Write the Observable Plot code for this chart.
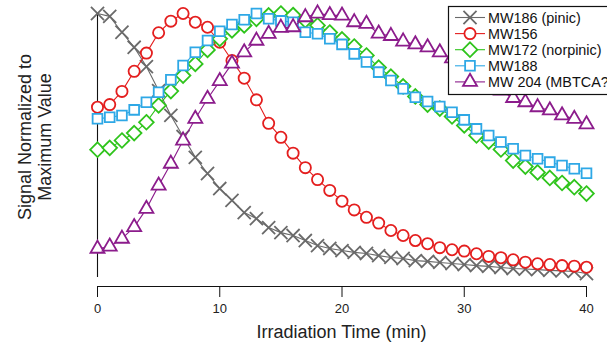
<!DOCTYPE html>
<html>
<head>
<meta charset="utf-8">
<script src="https://cdn.jsdelivr.net/npm/d3@7"></script>
<script src="https://cdn.jsdelivr.net/npm/@observablehq/plot@0.6"></script>
<style>
  html, body { margin: 0; padding: 0; background: white; }
  #chart { width: 607px; height: 346px; overflow: hidden; }
</style>
</head>
<body>
<div id="chart"></div>
<script>
const times = [0,1,2,3,4,5,6,7,8,9,10,11,12,13,14,15,16,17,18,19,20,21,22,23,24,25,26,27,28,29,30,31,32,33,34,35,36,37,38,39,40];
const xTicks = [0, 10, 20, 30, 40];
const seriesNames = ["MW186 (pinic)", "MW156", "MW172 (norpinic)", "MW188", "MW 204 (MBTCA?)"];

const mw186 = [1.000, 0.989, 0.929, 0.872, 0.799, 0.708, 0.614, 0.534, 0.455, 0.394, 0.337, 0.292, 0.246, 0.223, 0.189, 0.170, 0.159, 0.140, 0.121, 0.110, 0.102, 0.095, 0.091, 0.083, 0.076, 0.072, 0.064, 0.061, 0.057, 0.053, 0.049, 0.045, 0.042, 0.038, 0.034, 0.032, 0.030, 0.027, 0.025, 0.023, 0.015];
const mw156 = [0.645, 0.655, 0.705, 0.781, 0.850, 0.927, 0.971, 1.000, 0.967, 0.948, 0.891, 0.822, 0.755, 0.673, 0.584, 0.531, 0.471, 0.416, 0.371, 0.330, 0.289, 0.256, 0.228, 0.206, 0.178, 0.159, 0.140, 0.128, 0.113, 0.105, 0.100, 0.090, 0.080, 0.075, 0.067, 0.058, 0.052, 0.049, 0.045, 0.043, 0.039];
const mw172 = [0.484, 0.491, 0.519, 0.547, 0.588, 0.652, 0.706, 0.765, 0.809, 0.862, 0.904, 0.936, 0.955, 0.980, 0.993, 1.000, 0.994, 0.974, 0.955, 0.928, 0.902, 0.875, 0.841, 0.795, 0.761, 0.724, 0.686, 0.655, 0.640, 0.610, 0.576, 0.538, 0.515, 0.485, 0.443, 0.420, 0.398, 0.377, 0.358, 0.342, 0.318];
const mw188 = [0.601, 0.607, 0.614, 0.635, 0.664, 0.702, 0.749, 0.803, 0.853, 0.898, 0.933, 0.958, 0.976, 1.000, 0.980, 0.972, 0.967, 0.929, 0.923, 0.904, 0.883, 0.847, 0.816, 0.778, 0.746, 0.715, 0.683, 0.667, 0.648, 0.626, 0.597, 0.563, 0.538, 0.513, 0.488, 0.462, 0.450, 0.437, 0.424, 0.412, 0.395];
const mw204 = [0.109, 0.117, 0.147, 0.191, 0.260, 0.348, 0.431, 0.519, 0.601, 0.677, 0.744, 0.810, 0.853, 0.897, 0.923, 0.946, 0.948, 0.986, 1.000, 0.994, 0.992, 0.967, 0.961, 0.924, 0.915, 0.894, 0.883, 0.872, 0.853, 0.830, 0.799, 0.765, 0.735, 0.708, 0.680, 0.664, 0.645, 0.633, 0.614, 0.601, 0.580];

const FONT = "'Liberation Sans', Arial, Helvetica, sans-serif";
const styles = [
  {name: seriesNames[0], values: mw186, color: "#6a6a6a", symbol: "times",    r: 6.0, sw: 1.8},
  {name: seriesNames[1], values: mw156, color: "#e41e1e", symbol: "circle",   r: 5.6, sw: 1.8},
  {name: seriesNames[2], values: mw172, color: "#2fc41c", symbol: "diamond2", r: 6.6, sw: 1.8},
  {name: seriesNames[3], values: mw188, color: "#2ea8e6", symbol: "square",   r: 5.5, sw: 1.8},
  {name: seriesNames[4], values: mw204, color: "#8c1c8c", symbol: "triangle", r: 5.2, sw: 1.8}
];

const yMin = -0.0341;
const marks = [];
marks.push(Plot.ruleX([0], {y1: 0, y2: 1, stroke: "#111", strokeWidth: 1.1}));
marks.push(Plot.ruleY([yMin], {stroke: "#111", strokeWidth: 1.1}));
marks.push(Plot.axisX({ticks: xTicks, tickSize: 11, tickPadding: 6, fontSize: 13, label: null, stroke: "#111", color: "#222"}));
for (const s of styles) {
  const data = times.map((t, i) => ({t, v: s.values[i]}));
  marks.push(Plot.line(data, {x: "t", y: "v", stroke: s.color, strokeWidth: 1.1}));
  marks.push(Plot.dot(data, {x: "t", y: "v", symbol: () => s.symbol, r: s.r, stroke: s.color, fill: "white", strokeWidth: s.sw}));
}

const svg = Plot.plot({
  width: 607,
  height: 346,
  marginLeft: 97,
  marginRight: 21,
  marginTop: 13,
  marginBottom: 60,
  style: {fontFamily: FONT, background: "white", overflow: "visible"},
  x: {domain: [0, 40], label: null},
  y: {domain: [yMin, 1], axis: null},
  symbol: {type: "identity"},
  marks
});

const g = d3.select(svg).append("g").attr("font-family", FONT);

// axis titles
g.append("text").attr("x", 341.5).attr("y", 337.5).attr("text-anchor", "middle")
  .attr("font-size", 18).attr("fill", "#222").text("Irradiation Time (min)");
const yt = g.append("text").attr("transform", "translate(36,137) rotate(-90)")
  .attr("text-anchor", "middle").attr("font-size", 18).attr("fill", "#222");
yt.append("tspan").attr("x", 0).attr("y", -4.8).text("Signal Normalized to");
yt.append("tspan").attr("x", 0).attr("y", 15.2).text("Maximum Value");

// legend
const lg = g.append("g");
lg.append("rect").attr("x", 448.5).attr("y", 6.5).attr("width", 175).attr("height", 88)
  .attr("fill", "white").attr("stroke", "#111").attr("stroke-width", 1.2);
const symMap = {times: d3.symbolTimes, circle: d3.symbolCircle, diamond2: d3.symbolDiamond2, square: d3.symbolSquare, triangle: d3.symbolTriangle};
styles.forEach((s, i) => {
  const cy = 17.5 + 16.1 * i;
  lg.append("line").attr("x1", 455).attr("x2", 485).attr("y1", cy).attr("y2", cy)
    .attr("stroke", s.color).attr("stroke-width", 1.1);
  lg.append("path").attr("transform", `translate(470,${cy})`)
    .attr("d", d3.symbol(symMap[s.symbol], Math.PI * s.r * s.r)())
    .attr("fill", "white").attr("stroke", s.color).attr("stroke-width", s.sw);
  lg.append("text").attr("x", 488).attr("y", cy + 5).attr("text-anchor", "start")
    .attr("font-size", 14.4).attr("fill", "#111").text(s.name);
});

document.getElementById("chart").appendChild(svg);
</script>
</body>
</html>
